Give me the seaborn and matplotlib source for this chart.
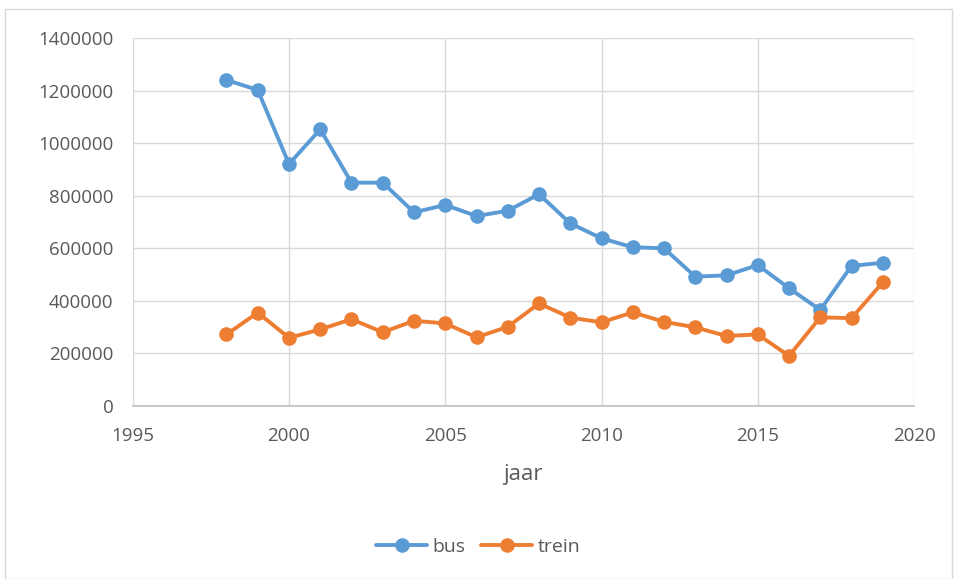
import matplotlib
matplotlib.use("Agg")
import matplotlib.pyplot as plt
import seaborn as sns
import pandas as pd
from matplotlib.patches import Rectangle
from matplotlib.ticker import FuncFormatter

# --- data ---
jaar = list(range(1998, 2020))
bus = [1241000, 1203000, 921000, 1053000, 850000, 850000, 737000, 765000,
       723000, 743000, 806000, 695000, 638000, 604000, 600000, 492000,
       497000, 536000, 448000, 365000, 533000, 545000]
trein = [272000, 355000, 259000, 291000, 330000, 280000, 324000, 314000,
         261000, 301000, 390000, 336000, 318000, 356000, 320000, 299000,
         266000, 272000, 190000, 337000, 334000, 470000]
x_ticks = [1995, 2000, 2005, 2010, 2015, 2020]
y_ticks = list(range(0, 1400001, 200000))

df = pd.DataFrame({"jaar": jaar * 2,
                   "waarde": bus + trein,
                   "serie": ["bus"] * len(jaar) + ["trein"] * len(jaar)})

sns.set_style("white")
plt.rcParams["font.family"] = ["Open Sans", "DejaVu Sans"]

fig = plt.figure(figsize=(9.57, 5.79), dpi=100)
ax = fig.add_axes([0.1387, 0.2991, 0.8164, 0.6348])

sns.lineplot(data=df, x="jaar", y="waarde", hue="serie",
             palette={"bus": "#5B9BD5", "trein": "#ED7D31"},
             marker="o", markersize=10.5, markeredgewidth=0,
             linewidth=2.8, ax=ax, legend=False)

ax.set_xlim(1995, 2020)
ax.set_ylim(0, 1400000)
ax.set_xticks(x_ticks)
ax.set_yticks(y_ticks)
ax.yaxis.set_major_formatter(FuncFormatter(lambda v, p: f"{int(v)}"))
ax.grid(True, color="#d9d9d9", linewidth=1)
ax.set_axisbelow(True)
for s in ["top", "right", "left"]:
    ax.spines[s].set_visible(False)
ax.spines["bottom"].set_color("#bfbfbf")
ax.spines["bottom"].set_linewidth(1.2)
ax.tick_params(length=0, labelsize=13.5, colors="#595959")
ax.tick_params(axis="x", pad=15)
ax.tick_params(axis="y", pad=14)
ax.set_xlabel("jaar", fontsize=16, color="#595959", labelpad=14)
ax.set_ylabel("")

# legend below
handles = [plt.Line2D([], [], color="#5B9BD5", marker="o", markersize=10.5,
                      markeredgewidth=0, linewidth=2.8),
           plt.Line2D([], [], color="#ED7D31", marker="o", markersize=10.5,
                      markeredgewidth=0, linewidth=2.8)]
fig.legend(handles, ["bus", "trein"], loc="center", bbox_to_anchor=(0.5, 0.055),
           ncol=2, frameon=False, fontsize=14, handlelength=2.6,
           columnspacing=0.8, handletextpad=0.3, labelcolor="#595959")

# chart border
fig.patches.append(Rectangle((0.005, 0.0), 0.99, 0.985, transform=fig.transFigure,
                             fill=False, edgecolor="#d9d9d9", linewidth=1))

fig.savefig("out.png", dpi=100)
